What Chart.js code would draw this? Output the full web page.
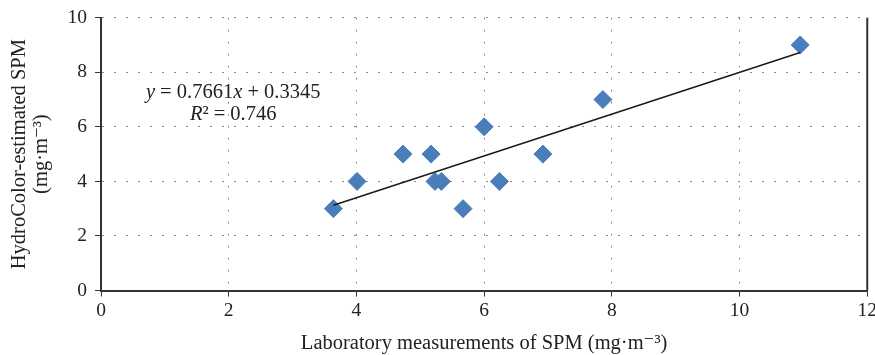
<!DOCTYPE html>
<html>
<head>
<meta charset="utf-8">
<script src="https://cdn.jsdelivr.net/npm/chart.js@4.4.1/dist/chart.umd.min.js"></script>
<style>
  html, body { margin: 0; background: #fff; overflow: hidden; }
  canvas { display: block; margin-top: -2px; }
</style>
</head>
<body>
<canvas id="spmChart" width="880" height="357"></canvas>
<script>
// SPM: lab measurements vs. HydroColor estimates (mg·m⁻³)
const labSpm = [3.64, 4.01, 4.73, 5.17, 5.23, 5.33, 5.67, 6.00, 6.24, 6.92, 7.86, 10.95];
const hydroSpm = [3, 4, 5, 5, 4, 4, 3, 6, 4, 5, 7, 9];
const xTicks = [0, 2, 4, 6, 8, 10, 12];
const yTicks = [0, 2, 4, 6, 8, 10];

// linear fit as reported on the chart
const slope = 0.7661;
const intercept = 0.3345;
const rSquared = 0.746;

const serif = "'Liberation Serif', 'DejaVu Serif', serif";
const points = labSpm.map((x, i) => ({ x, y: hydroSpm[i] }));
const xMin = Math.min(...labSpm), xMax = Math.max(...labSpm);
const fitLine = [xMin, xMax].map(x => ({ x, y: slope * x + intercept }));

// equation text, italic variables mixed with upright numbers
function drawRuns(ctx, runs, cx, baseY) {
  const fonts = runs.map(r => (r[1] ? 'italic ' : '') + '20.5px ' + serif);
  let total = 0;
  runs.forEach((r, i) => { ctx.font = fonts[i]; total += ctx.measureText(r[0]).width; });
  let x = cx - total / 2;
  runs.forEach((r, i) => {
    ctx.font = fonts[i];
    ctx.fillText(r[0], x, baseY);
    x += ctx.measureText(r[0]).width;
  });
}

const eqLabel = {
  id: 'eqLabel',
  afterDraw(chart) {
    const { ctx, scales: { x, y }, chartArea } = chart;
    ctx.save();
    // solid frame on the right side
    ctx.strokeStyle = '#333';
    ctx.lineWidth = 2;
    ctx.beginPath();
    ctx.moveTo(chartArea.right, chartArea.top);
    ctx.lineTo(chartArea.right, chartArea.bottom);
    ctx.stroke();

    ctx.fillStyle = '#222';
    ctx.textBaseline = 'alphabetic';
    const cx = x.getPixelForValue(2.07);
    const by = y.getPixelForValue(7.05);
    drawRuns(ctx, [['y', true], [' = ' + slope.toFixed(4), false], ['x', true], [' + ' + intercept.toFixed(4), false]], cx, by);
    drawRuns(ctx, [['R', true], ['² = ' + rSquared.toFixed(3), false]], cx, by + 22);
    ctx.restore();
  }
};

const axisCommon = {
  type: 'linear',
  grid: {
    color: '#8a8a8a',
    lineWidth: 1,
    tickColor: '#333',
    tickLength: 6,
    drawTicks: true
  },
  border: { color: '#333', width: 2, dash: [2, 10] },
  ticks: { color: '#222', font: { family: serif, size: 19.5 }, padding: 4 },
  title: { display: true, color: '#222', font: { family: serif, size: 20.5, lineHeight: 1.05 } }
};

new Chart(document.getElementById('spmChart'), {
  type: 'scatter',
  data: {
    datasets: [
      {
        label: 'Fit',
        data: fitLine,
        showLine: true,
        borderColor: '#1a1a1a',
        borderWidth: 1.5,
        pointRadius: 0
      },
      {
        label: 'SPM',
        data: points,
        pointStyle: 'rectRot',
        pointRadius: 9,
        backgroundColor: '#4a7ebb',
        borderColor: '#4a7ebb',
        borderWidth: 1
      }
    ]
  },
  options: {
    responsive: false,
    animation: false,
    layout: { autoPadding: false, padding: { top: 16.3, right: 3.3, left: 0, bottom: 0 } },
    plugins: { legend: { display: false }, tooltip: { enabled: false } },
    scales: {
      x: {
        ...axisCommon,
        min: 0, max: 12,
        afterBuildTicks: s => { s.ticks = xTicks.map(v => ({ value: v })); },
        afterFit: s => { s.height = 64.5; },
        ticks: { ...axisCommon.ticks, padding: 3 },
        title: { ...axisCommon.title, text: 'Laboratory measurements of SPM (mg·m⁻³)', padding: { top: 0, bottom: 1 } }
      },
      y: {
        ...axisCommon,
        min: 0, max: 10,
        afterBuildTicks: s => { s.ticks = yTicks.map(v => ({ value: v })); },
        afterFit: s => { s.width = 101; },
        ticks: { ...axisCommon.ticks, padding: 8 },
        title: { ...axisCommon.title, text: ['HydroColor-estimated SPM', '(mg·m⁻³)'], padding: { top: 9, bottom: 0 } }
      }
    }
  },
  plugins: [eqLabel]
});
</script>
</body>
</html>
